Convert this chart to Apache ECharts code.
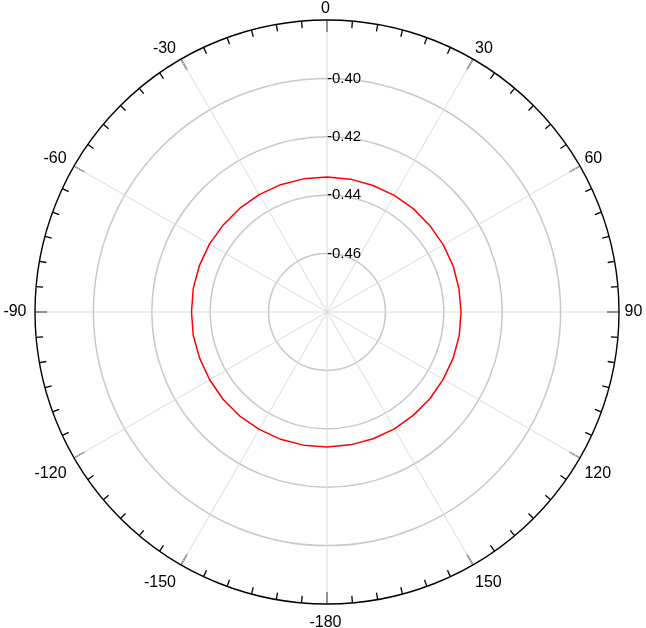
<!DOCTYPE html>
<html>
<head>
<meta charset="utf-8">
<script src="https://cdn.jsdelivr.net/npm/echarts@6/dist/echarts.min.js"></script>
<style>
    html, body { margin: 0; padding: 0; background: #fff; }
    #main { width: 646px; height: 628px; }
</style>
</head>
<body>
<div id="main"></div>
<script>
// angles as labelled on the chart (0 at top, clockwise)
var angles = [-180, -170, -160, -150, -140, -130, -120, -110, -100, -90, -80, -70,
    -60, -50, -40, -30, -20, -10, 0, 10, 20, 30, 40, 50,
    60, 70, 80, 90, 100, 110, 120, 130, 140, 150, 160, 170];
var values = [-0.4338, -0.4337, -0.4336, -0.4336, -0.4335, -0.4335, -0.4336, -0.4336, -0.4335, -0.4336, -0.4335, -0.4335,
    -0.4335, -0.4336, -0.4336, -0.4336, -0.4336, -0.4337, -0.4338, -0.4338, -0.4339, -0.4339, -0.4339, -0.4340,
    -0.4340, -0.4340, -0.4341, -0.4341, -0.4340, -0.4340, -0.4340, -0.4339, -0.4339, -0.4338, -0.4338, -0.4338];
var radiusTicks = [-0.48, -0.46, -0.44, -0.42, -0.40, -0.38];

var chart = echarts.init(document.getElementById('main'));

var lineData = [];
for (var i = 0; i < angles.length; i++) {
    lineData.push([values[i], (angles[i] + 360) % 360]);
}
lineData.push(lineData[0]);

var option = {
    backgroundColor: '#fff',
    animation: false,
    polar: {
        center: [327, 312],
        radius: 292
    },
    angleAxis: {
        type: 'value',
        min: 0,
        max: 360,
        interval: 30,
        startAngle: 90,
        clockwise: true,
        axisLine: { lineStyle: { color: '#000', width: 1.4 } },
        axisTick: { inside: true, length: 12, lineStyle: { color: '#000', width: 1.4 } },
        minorTick: { show: true, splitNumber: 6, length: 7, lineStyle: { color: '#000', width: 1.3 } },
        axisLabel: {
            margin: 7,
            color: '#000',
            fontSize: 16,
            fontFamily: 'Liberation Sans',
            padding: [4, 1.5, -4, -1.5],
            formatter: function (v) {
                if (v === 360) return '';
                return v >= 180 ? String(v - 360) : String(v);
            }
        },
        splitLine: { show: true, lineStyle: { color: '#dcdcdc', width: 1 } }
    },
    radiusAxis: {
        type: 'value',
        min: radiusTicks[0],
        max: radiusTicks[radiusTicks.length - 1],
        interval: 0.02,
        axisLine: { show: false },
        axisTick: { show: false },
        axisLabel: {
            color: '#000',
            fontSize: 15,
            fontFamily: 'Liberation Sans',
            align: 'left',
            verticalAlign: 'middle',
            margin: 0,
            formatter: function (v) {
                var s = v.toFixed(2);
                if (s === radiusTicks[0].toFixed(2) || s === radiusTicks[radiusTicks.length - 1].toFixed(2)) return '';
                return s;
            }
        },
        splitLine: {
            show: true,
            lineStyle: { color: ['#c8c8c8', '#c8c8c8', '#c8c8c8', '#c8c8c8', '#c8c8c8', 'rgba(0,0,0,0)'], width: 1.5 }
        }
    },
    series: [{
        type: 'line',
        coordinateSystem: 'polar',
        showSymbol: false,
        data: lineData,
        lineStyle: { color: '#ff0000', width: 1.5 },
        z: 5
    }]
};
chart.setOption(option);
</script>
</body>
</html>
